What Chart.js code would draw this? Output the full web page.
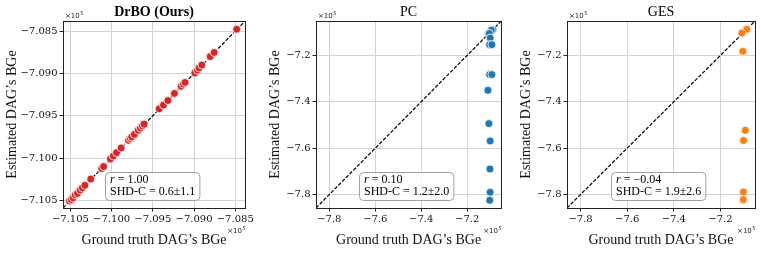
<!DOCTYPE html>
<html>
<head>
<meta charset="utf-8">
<script src="https://cdn.jsdelivr.net/npm/chart.js@4.4.0/dist/chart.umd.min.js"></script>
<style>
  html, body { margin: 0; padding: 0; background: #fff; }
  body { width: 761px; height: 255px; position: relative; overflow: hidden; }
  canvas { position: absolute; top: 0; }
</style>
</head>
<body>
<canvas id="c1" width="256" height="255" style="left:0px"></canvas>
<canvas id="c2" width="250" height="255" style="left:256px"></canvas>
<canvas id="c3" width="255" height="255" style="left:506px"></canvas>
<script>
// values are in units of 1e5 (axes show x10^5)
const drboTruth = [-7.10512, -7.10488, -7.10467, -7.10441, -7.10414, -7.10382, -7.10355, -7.10324, -7.10253,
  -7.10120, -7.10097, -7.10014, -7.09979, -7.09940, -7.09885, -7.09794, -7.09773, -7.09756, -7.09724,
  -7.09677, -7.09650, -7.09626, -7.09606, -7.09423, -7.09371, -7.09317, -7.09238, -7.09156, -7.09129,
  -7.09109, -7.08991, -7.08959, -7.08938, -7.08905, -7.08803, -7.08756, -7.08482];
const drboEst = [-7.10508, -7.10492, -7.10470, -7.10436, -7.10418, -7.10378, -7.10352, -7.10322, -7.10248,
  -7.10124, -7.10100, -7.10010, -7.09975, -7.09936, -7.09880, -7.09790, -7.09768, -7.09750, -7.09720,
  -7.09672, -7.09645, -7.09620, -7.09600, -7.09418, -7.09374, -7.09320, -7.09236, -7.09152, -7.09126,
  -7.09106, -7.08994, -7.08962, -7.08935, -7.08900, -7.08800, -7.08752, -7.08478];

const pcTruth = [-7.0883, -7.0950, -7.1068, -7.1040, -7.1000, -7.1025, -7.0926, -7.1025, -7.0926,
  -7.1098, -7.1055, -7.1000, -7.1010, -7.1000, -7.1020];
const pcEst = [-7.0894, -7.0920, -7.1066, -7.1060, -7.1255, -7.1539, -7.1539, -7.2830, -7.2830,
  -7.3507, -7.4943, -7.5690, -7.6900, -7.7900, -7.8247];

const gesTruth = [-7.0893, -7.0870, -7.1083, -7.1040, -7.0938, -7.1010, -7.1020, -7.1020];
const gesEst = [-7.0850, -7.0880, -7.1040, -7.1828, -7.5230, -7.5670, -7.7890, -7.8220];

const drboTicks = [-7.105, -7.100, -7.095, -7.090, -7.085];
const baseTicks = [-7.8, -7.6, -7.4, -7.2];
const drboRange = [-7.1059, -7.0838];
const baseRange = [-7.858, -7.052];

const titles = ['DrBO (Ours)', 'PC', 'GES'];
const rValues = ['1.00', '0.10', '\u22120.04'];
const shdValues = ['0.6\u00b11.1', '1.2\u00b12.0', '1.9\u00b12.6'];
const colors = ['#d62728', '#1f77b4', '#ff7f0e'];

const serif = '"Liberation Serif", "DejaVu Serif", serif';
const tickFont = { family: '"DejaVu Serif", serif', size: 10 };

function fmt(v, d) {
  return (v < 0 ? '\u2212' : '') + Math.abs(v).toFixed(d);
}

function drawMult(ctx, x, y, alignRight) {
  ctx.font = '7px "DejaVu Sans", sans-serif';
  const base = '\u00d710';
  const w1 = ctx.measureText(base).width;
  ctx.font = '5px "DejaVu Sans", sans-serif';
  const w2 = ctx.measureText('5').width;
  const x0 = alignRight ? x - w1 - w2 : x;
  ctx.textAlign = 'left';
  ctx.textBaseline = 'alphabetic';
  ctx.font = '7px "DejaVu Sans", sans-serif';
  ctx.fillText(base, x0, y);
  ctx.font = '5px "DejaVu Sans", sans-serif';
  ctx.fillText('5', x0 + w1 + 0.5, y - 3);
}

const decor = {
  id: 'decor',
  afterDraw(chart, args, o) {
    const { ctx, chartArea: a } = chart;
    ctx.save();
    // frame
    ctx.strokeStyle = '#222';
    ctx.lineWidth = 1;
    ctx.strokeRect(Math.round(a.left) + 0.5, Math.round(a.top) + 0.5,
      Math.round(a.right) - Math.round(a.left), Math.round(a.bottom) - Math.round(a.top));
    // title
    ctx.fillStyle = '#000';
    ctx.textAlign = 'center';
    ctx.textBaseline = 'middle';
    ctx.font = (o.bold ? 'bold ' : '') + '14px ' + serif;
    ctx.fillText(o.title, (a.left + a.right) / 2, 12);
    // x10^5 labels
    ctx.fillStyle = '#222';
    drawMult(ctx, a.left + 2, a.top - 3, false);
    drawMult(ctx, a.right, a.bottom + 25, true);
    // stats box
    const w = a.right - a.left, h = a.bottom - a.top;
    ctx.font = '12px ' + serif;
    const l2 = 'SHD-C = ' + o.shd;
    ctx.font = 'italic 12px ' + serif;
    const rw = ctx.measureText('r').width;
    ctx.font = '12px ' + serif;
    const l1rest = ' = ' + o.r;
    const tw = Math.max(ctx.measureText(l2).width, rw + ctx.measureText(l1rest).width);
    const bw = tw + 9, bh = 28;
    const bx = Math.round(a.left + 0.233 * w) + 0.5;
    const by = Math.round(a.bottom - 0.043 * h - bh) + 0.5;
    ctx.beginPath();
    ctx.roundRect(bx, by, bw, bh, 4);
    ctx.fillStyle = 'rgba(255,255,255,0.85)';
    ctx.fill();
    ctx.strokeStyle = '#a0a0a0';
    ctx.lineWidth = 1;
    ctx.stroke();
    ctx.fillStyle = '#000';
    ctx.textAlign = 'left';
    ctx.textBaseline = 'middle';
    ctx.font = 'italic 12px ' + serif;
    ctx.fillText('r', bx + 4.5, by + 7.5);
    ctx.font = '12px ' + serif;
    ctx.fillText(l1rest, bx + 4.5 + rw, by + 7.5);
    ctx.fillText(l2, bx + 4.5, by + 19.5);
    ctx.restore();
  }
};

function makeChart(id, p) {
  const pts = p.truth.map((v, i) => ({ x: v, y: p.est[i] }));
  const axis = (isY) => ({
    type: 'linear',
    min: p.range[0],
    max: p.range[1],
    afterBuildTicks: (s) => { s.ticks = p.ticks.map(v => ({ value: v })); },
    afterFit: (s) => { if (isY) s.width = p.yw; else s.height = 47; },
    grid: { color: '#d3d3d3', lineWidth: 1, drawTicks: true, tickLength: 3.5, tickColor: '#222', tickWidth: 1 },
    border: { display: false },
    ticks: {
      color: '#111',
      font: tickFont,
      padding: 2,
      maxRotation: 0,
      autoSkip: false,
      callback: (v) => fmt(v, p.dec)
    },
    title: {
      display: true,
      text: isY ? 'Estimated DAG\u2019s BGe' : 'Ground truth DAG\u2019s BGe',
      color: '#111',
      font: { family: serif, size: 14 },
      padding: isY ? { top: p.ytp, bottom: 0 } : { top: 0, bottom: 6.6 }
    }
  });
  return new Chart(document.getElementById(id), {
    type: 'scatter',
    data: {
      datasets: [
        {
          type: 'line',
          data: [{ x: p.range[0], y: p.range[0] }, { x: p.range[1], y: p.range[1] }],
          borderColor: '#000',
          borderWidth: 1.2,
          borderDash: [3.7, 1.6],
          pointRadius: 0,
          order: 2
        },
        {
          data: pts,
          backgroundColor: p.color,
          borderColor: '#fff',
          borderWidth: 0.8,
          pointRadius: 4,
          order: 1
        }
      ]
    },
    options: {
      responsive: false,
      animation: false,
      layout: { padding: { top: 21, right: p.pr, left: 0, bottom: 0 } },
      scales: { x: axis(false), y: axis(true) },
      plugins: {
        legend: { display: false },
        tooltip: { enabled: false },
        decor: { title: p.title, bold: p.bold, r: p.r, shd: p.shd }
      }
    },
    plugins: [decor]
  });
}

makeChart('c1', { truth: drboTruth, est: drboEst, range: drboRange, ticks: drboTicks, dec: 3,
  yw: 63, pr: 4, ytp: 3.6, color: colors[0], title: titles[0], bold: true, r: rValues[0], shd: shdValues[0] });
makeChart('c2', { truth: pcTruth, est: pcEst, range: baseRange, ticks: baseTicks, dec: 1,
  yw: 60, pr: 3, ytp: 10.6, color: colors[1], title: titles[1], bold: false, r: rValues[1], shd: shdValues[1] });
makeChart('c3', { truth: gesTruth, est: gesEst, range: baseRange, ticks: baseTicks, dec: 1,
  yw: 61, pr: 6, ytp: 12.3, color: colors[2], title: titles[2], bold: false, r: rValues[2], shd: shdValues[2] });
</script>
</body>
</html>
